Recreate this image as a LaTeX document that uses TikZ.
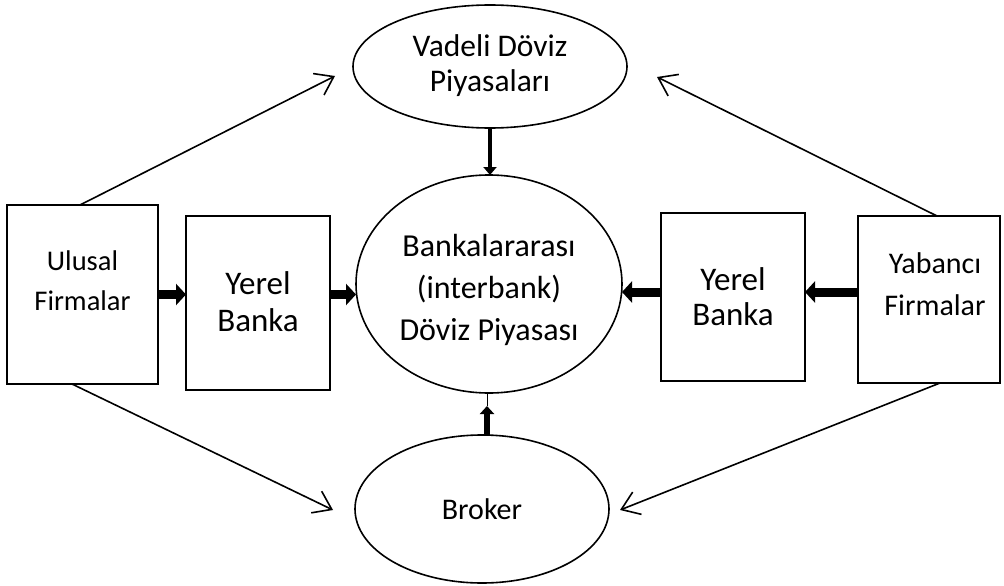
\documentclass[tikz,border=0pt]{standalone}
\usepackage{fontspec}
\setmainfont{Carlito}
\usetikzlibrary{arrows.meta,shapes.geometric}
\begin{document}
\begin{tikzpicture}[x=1pt,y=-1pt,
  box/.style={draw, line width=1.6pt, rectangle, inner sep=0pt, outer sep=0pt},
  oval/.style={draw, line width=1.6pt, ellipse, inner sep=0pt, outer sep=0pt},
  txt/.style={align=center, font=\fontsize{28}{40}\selectfont, inner sep=0pt},
  openarrow/.style={line width=1.6pt, -{Straight Barb[length=17pt,width=24pt,line width=1.6pt]}},
  blockarrow/.style={line width=9pt, -{Triangle[length=10pt,width=21pt]}}]
\useasboundingbox (0,0) rectangle (1004,586);
% shapes
\node[box, minimum width=151pt, minimum height=179pt] (ulusal) at (82.5,294.5) {};
\node[box, minimum width=144pt, minimum height=174pt] (yerelL) at (258,303) {};
\node[box, minimum width=144pt, minimum height=168pt] (yerelR) at (733,297) {};
\node[box, minimum width=142pt, minimum height=167pt] (yabanci) at (929,299.5) {};
\node[oval, minimum width=274pt, minimum height=123pt] (vadeli) at (490,66.5) {};
\node[oval, minimum width=266pt, minimum height=218pt] (merkez) at (489,284) {};
\node[oval, minimum width=254pt, minimum height=148pt] (broker) at (482,509) {};
% texts
\node[txt, font=\fontsize{28.5}{40}\selectfont] (tUlusal) at (82.5,281) {Ulusal\\Firmalar};
\node[txt, font=\fontsize{33}{37}\selectfont] (tYerelL) at (258,302) {Yerel\\Banka};
\node[txt, font=\fontsize{33}{35}\selectfont] (tYerelR) at (733,297) {Yerel\\Banka};
\node[txt, font=\fontsize{30}{42}\selectfont] (tYabanci) at (935,284) {Yabancı\\Firmalar};
\node[txt, font=\fontsize{32}{42}\selectfont] (tMerkez) at (489,290) {Bankalararası\\(interbank)\\Döviz Piyasası};
\node[txt, font=\fontsize{31.5}{35}\selectfont] (tVadeli) at (490,66) {Vadeli Döviz\\Piyasaları};
\node[txt, font=\fontsize{30}{40}\selectfont] (tBroker) at (482,509) {Broker};
% block arrows
\draw[blockarrow] (ulusal.east) -- (ulusal.east -| yerelL.west);
\draw[blockarrow] (yerelL.east |- ulusal.east) -- (merkez.west |- ulusal.east);
\coordinate (rowR) at (0,292);
\draw[blockarrow] (yabanci.west |- rowR) -- (yerelR.east |- rowR);
\draw[blockarrow] (yerelR.west |- rowR) -- (merkez.east |- rowR);
\draw[line width=4pt, -{Triangle[length=8pt,width=13pt]}] (vadeli.south) -- (vadeli.south |- merkez.north);
\coordinate (bt) at (487,406);
\draw[line width=1pt] (bt) -- (bt |- merkez.south);
\draw[line width=6pt, -{Triangle[length=8pt,width=14pt]}] (broker.north -| bt) -- (bt);
% open arrows
\coordinate (s1) at (80,205);  \coordinate (e1) at (335,76);
\coordinate (s2) at (937,216); \coordinate (e2) at (657,77);
\coordinate (s3) at (72,384);  \coordinate (e3) at (333,510);
\coordinate (s4) at (940,383); \coordinate (e4) at (620,510);
\draw[openarrow] (s1) -- (e1);
\draw[openarrow] (s2) -- (e2);
\draw[openarrow] (s3) -- (e3);
\draw[openarrow] (s4) -- (e4);
\end{tikzpicture}
\end{document}
